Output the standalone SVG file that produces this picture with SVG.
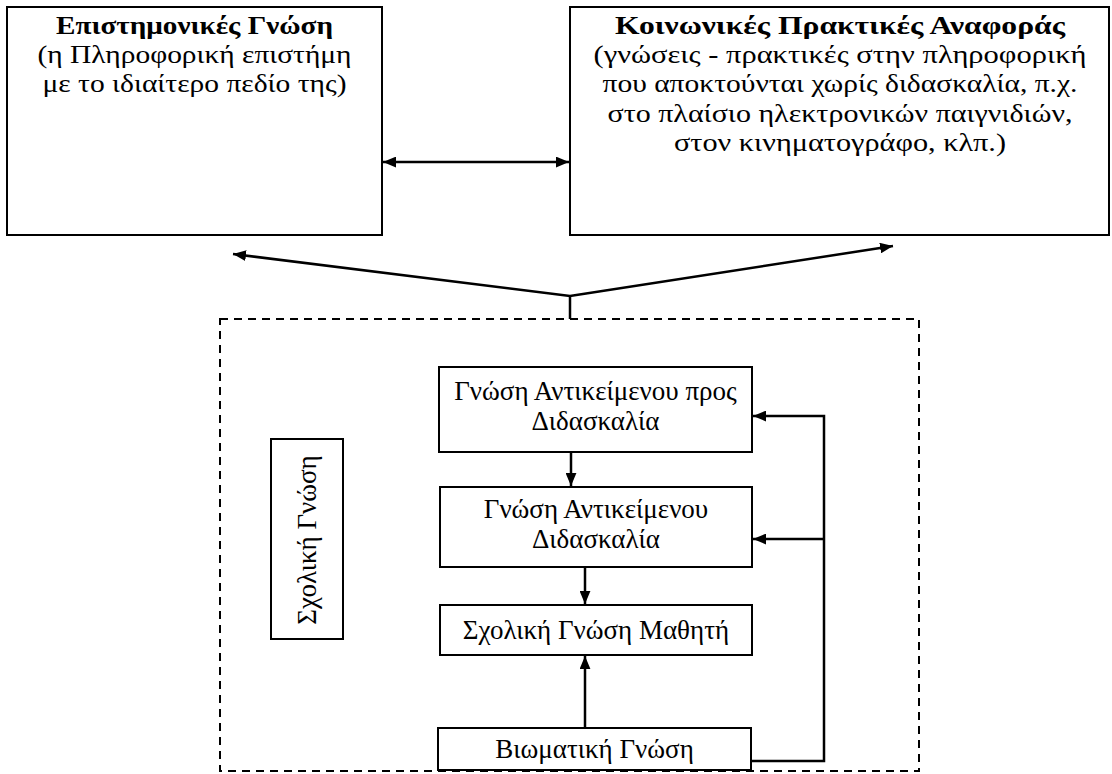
<svg xmlns="http://www.w3.org/2000/svg" width="1112" height="774" viewBox="0 0 1112 774">
<defs>
<style>
.box{fill:#fff;stroke:#000;stroke-width:2}
.t{font-family:'Liberation Serif','Times New Roman','DejaVu Serif',serif;fill:#000;text-anchor:middle}
.big{font-size:26px}
.sm{font-size:27px}
.b{font-weight:bold}
.ln{fill:none;stroke:#000;stroke-width:2.5}
.dash{fill:none;stroke:#000;stroke-width:2;stroke-dasharray:8 6}
</style>
<marker id="ah" viewBox="0 0 12 10" refX="12" refY="5" markerWidth="13" markerHeight="11" markerUnits="userSpaceOnUse" orient="auto-start-reverse">
<path d="M0,0 L12,5 L0,10 Z" fill="#000"/>
</marker>
</defs>
<rect width="1112" height="774" fill="#fff"/>
<g id="dashed-frame">
<rect class="dash" x="220" y="319" width="699" height="452"/>
</g>
<g id="n-science">
<rect class="box" x="7" y="7" width="375" height="228"/>
<text class="t big b" x="194.5" y="34" textLength="277" lengthAdjust="spacingAndGlyphs">Επιστημονικές Γνώση</text>
<text class="t big" x="194.5" y="63.2" textLength="314" lengthAdjust="spacingAndGlyphs">(η Πληροφορική επιστήμη</text>
<text class="t big" x="194.5" y="92.4" textLength="304" lengthAdjust="spacingAndGlyphs">με το ιδιαίτερο πεδίο της)</text>
</g>
<g id="n-social">
<rect class="box" x="570" y="7" width="539" height="228"/>
<text class="t big b" x="840" y="34" textLength="450" lengthAdjust="spacingAndGlyphs">Κοινωνικές Πρακτικές Αναφοράς</text>
<text class="t big" x="840" y="63.2" textLength="493" lengthAdjust="spacingAndGlyphs">(γνώσεις - πρακτικές στην πληροφορική</text>
<text class="t big" x="840" y="92.4" textLength="475" lengthAdjust="spacingAndGlyphs">που αποκτούνται χωρίς διδασκαλία, π.χ.</text>
<text class="t big" x="840" y="121.6" textLength="465" lengthAdjust="spacingAndGlyphs">στο πλαίσιο ηλεκτρονικών παιγνιδιών,</text>
<text class="t big" x="840" y="150.8" textLength="332" lengthAdjust="spacingAndGlyphs">στον κινηματογράφο, κλπ.)</text>
</g>
<g id="n-school-label">
<rect class="box" x="271" y="439" width="72" height="200"/>
<text class="t sm" transform="translate(316,540) rotate(-90)">Σχολική Γνώση</text>
</g>
<g id="n-teach">
<rect class="box" x="439" y="367" width="313" height="85"/>
<text class="t sm" x="595.5" y="400">Γνώση Αντικείμενου προς</text>
<text class="t sm" x="595.5" y="430">Διδασκαλία</text>
</g>
<g id="n-taught">
<rect class="box" x="440" y="487" width="312" height="80"/>
<text class="t sm" x="596" y="518">Γνώση Αντικείμενου</text>
<text class="t sm" x="596" y="548">Διδασκαλία</text>
</g>
<g id="n-student">
<rect class="box" x="440" y="605" width="312" height="50"/>
<text class="t sm" x="596" y="639">Σχολική Γνώση Μαθητή</text>
</g>
<g id="n-experience">
<rect class="box" x="438" y="728" width="313" height="42"/>
<text class="t sm" x="594.5" y="758">Βιωματική Γνώση</text>
</g>
<g id="connectors">
<line class="ln" x1="383" y1="162" x2="569" y2="162" marker-start="url(#ah)" marker-end="url(#ah)"/>
<polyline class="ln" points="233,254 570,296 893,246" marker-start="url(#ah)" marker-end="url(#ah)"/>
<line class="ln" x1="570" y1="296" x2="570" y2="319"/>
<line class="ln" x1="571" y1="452" x2="571" y2="486" marker-end="url(#ah)"/>
<line class="ln" x1="585" y1="567" x2="585" y2="604" marker-end="url(#ah)"/>
<line class="ln" x1="585" y1="728" x2="585" y2="656" marker-end="url(#ah)"/>
<polyline class="ln" points="751,761 824,761 824,416 753,416" marker-end="url(#ah)"/>
<line class="ln" x1="824" y1="539" x2="753" y2="539" marker-end="url(#ah)"/>
</g>
</svg>
